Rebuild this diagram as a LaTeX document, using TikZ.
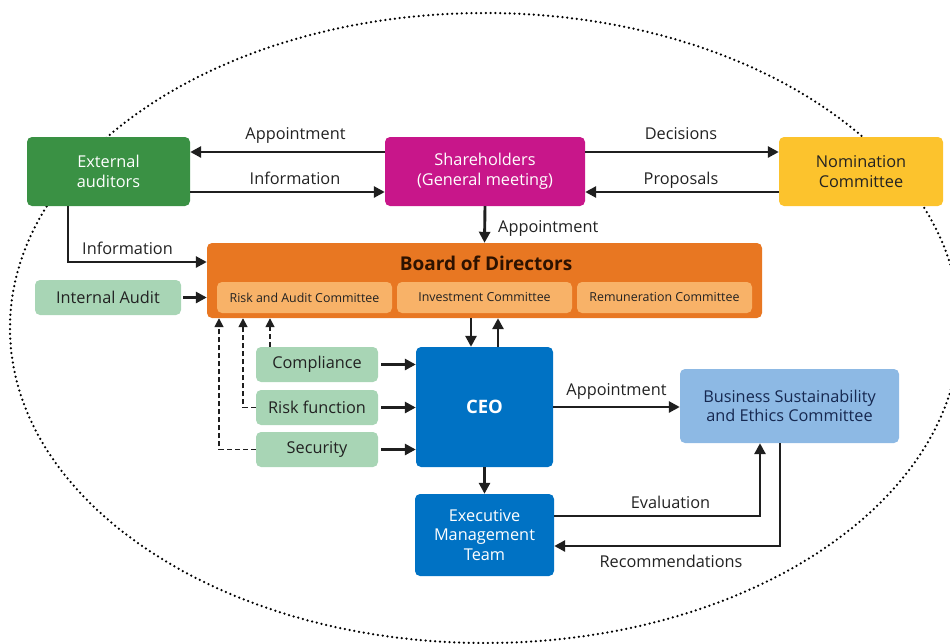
\documentclass[tikz,border=0pt]{standalone}
\usepackage{fontspec}
\setmainfont{Open Sans}
\usetikzlibrary{arrows.meta}
\definecolor{cgreen}{RGB}{58,145,68}
\definecolor{cmag}{RGB}{200,22,138}
\definecolor{cyel}{RGB}{252,195,45}
\definecolor{corange}{RGB}{232,119,34}
\definecolor{csub}{RGB}{248,178,104}
\definecolor{clgreen}{RGB}{168,213,181}
\definecolor{cblue}{RGB}{0,114,196}
\definecolor{clblue}{RGB}{141,185,228}
\definecolor{ctxt}{RGB}{34,34,34}
\definecolor{cnavy}{RGB}{22,40,80}
\definecolor{cbrown}{RGB}{45,18,0}
\begin{document}
\begin{tikzpicture}[x=1pt,y=-1pt,
  box/.style={rounded corners=5pt, inner sep=0pt, align=center, font=\fontsize{16.3}{19.5}\selectfont},
  subbox/.style={box, fill=csub, text=ctxt, minimum width=175pt, minimum height=31pt, font=\fontsize{12.4}{15}\selectfont},
  lbl/.style={anchor=base, inner sep=0pt, text=ctxt, font=\fontsize{16.3}{19.5}\selectfont},
  arr/.style={line width=2.9pt, draw=black!88, -{Triangle[length=11pt,width=11pt]}},
  darr/.style={line width=1.7pt, draw=black!88, dash pattern=on 5pt off 3pt, -{Triangle[length=9pt,width=9pt]}}
]
\useasboundingbox (0,0) rectangle (950,643);
\draw[line width=2.5pt, line cap=round, dash pattern=on 0pt off 4.8pt, black] (485,328) ellipse [x radius=475, y radius=315];

% nodes
\node[box, fill=cgreen, text=white, minimum width=163pt, minimum height=69pt] (Ext) at (108.5,171.5) {External\\auditors};
\node[box, fill=cmag, text=white, minimum width=200pt, minimum height=69pt] (Sh) at (485,171.5) {Shareholders\\(General meeting)};
\node[box, fill=cyel, text=ctxt, minimum width=164pt, minimum height=69pt] (Nom) at (861,171.5) {Nomination\\Committee};
\node[box, fill=corange, minimum width=555pt, minimum height=75pt] (Board) at (484.5,280.5) {};
\node[anchor=base, inner sep=0pt, text=cbrown, font=\fontsize{19}{22}\selectfont\bfseries] (BoardT) at (486,270) {Board of Directors};
\node[subbox] (RA) at (304.5,297.5) {Risk and Audit Committee};
\node[subbox] (Inv) at (484.5,297.5) {Investment Committee};
\node[subbox] (Rem) at (664.5,297.5) {Remuneration Committee};
\node[box, fill=clgreen, text=ctxt, minimum width=146pt, minimum height=35pt] (IA) at (108,297.5) {Internal Audit};
\node[box, fill=cblue, text=white, minimum width=137pt, minimum height=120pt, font=\fontsize{18.5}{22}\selectfont\bfseries] (CEO) at (484.5,407) {CEO};
\node[box, fill=clgreen, text=ctxt, minimum width=122pt, minimum height=35pt] (Comp) at (317,364.5) {Compliance};
\node[box, fill=clgreen, text=ctxt, minimum width=122pt, minimum height=35pt] (Risk) at (317,407.5) {Risk function};
\node[box, fill=clgreen, text=ctxt, minimum width=122pt, minimum height=35pt] (Sec) at (317,449.5) {Security};
\node[box, fill=clblue, text=cnavy, minimum width=219pt, minimum height=74pt] (BSEC) at (789.5,406) {Business Sustainability\\and Ethics Committee};
\node[box, fill=cblue, text=white, minimum width=139pt, minimum height=82pt] (EMT) at (484.5,535) {Executive\\Management\\Team};

% helper coordinates
\coordinate (yA) at (0,152);
\coordinate (yB) at (0,192);
\coordinate (xI) at (68,0);
\coordinate (yI) at (0,262);
\coordinate (xD) at (471,0);
\coordinate (xU) at (498,0);
\coordinate (xC) at (270,0);
\coordinate (xR) at (243,0);
\coordinate (xS) at (219,0);
\coordinate (yEv) at (0,516);
\coordinate (xEv) at (760,0);
\coordinate (xRec) at (780,0);
\coordinate (yRec) at (0,546);

% connectors
\draw[arr] (Sh.west |- yA) -- (Ext.east |- yA);
\draw[arr] (Ext.east |- yB) -- (Sh.west |- yB);
\draw[arr] (Sh.east |- yA) -- (Nom.west |- yA);
\draw[arr] (Nom.west |- yB) -- (Sh.east |- yB);
\draw[arr] (Sh.south) -- (Board.north);
\draw[arr] (Ext.south -| xI) |- (Board.west |- yI);
\draw[arr, shorten <=2pt] (IA.east) -- (Board.west |- IA.east);
\draw[arr] (Board.south -| xD) -- (CEO.north -| xD);
\draw[arr] (CEO.north -| xU) -- (Board.south -| xU);
\draw[arr, shorten <=3pt] (Comp.east) -- (CEO.west |- Comp.east);
\draw[arr, shorten <=3pt] (Risk.east) -- (CEO.west |- Risk.east);
\draw[arr, shorten <=3pt] (Sec.east) -- (CEO.west |- Sec.east);
\draw[darr] (Comp.north -| xC) -- (Board.south -| xC);
\draw[darr] (Risk.west) -| (Board.south -| xR);
\draw[darr] (Sec.west) -| (Board.south -| xS);
\draw[arr] (CEO.east) -- (BSEC.west |- CEO.east);
\draw[arr] (CEO.south) -- (EMT.north);
\draw[arr] (EMT.east |- yEv) -| (BSEC.south -| xEv);
\draw[arr] (BSEC.south -| xRec) |- (EMT.east |- yRec);

% labels
\node[lbl] (l1) at (295.5,139) {Appointment};
\node[lbl] (l2) at (295,184) {Information};
\node[lbl] (l3) at (681,139) {Decisions};
\node[lbl] (l4) at (681,184) {Proposals};
\node[lbl, anchor=base west] (l5) at (498,232) {Appointment};
\node[lbl] (l6) at (127.5,254) {Information};
\node[lbl] (l7) at (616.5,395) {Appointment};
\node[lbl] (l8) at (670.5,508) {Evaluation};
\node[lbl] (l9) at (671,567) {Recommendations};
\end{tikzpicture}
\end{document}
